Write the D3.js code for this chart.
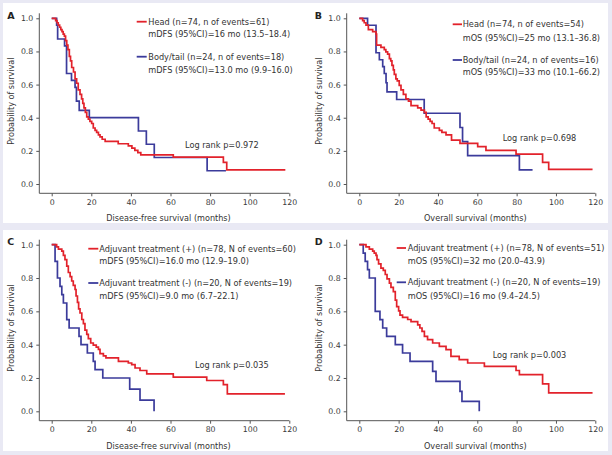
<!DOCTYPE html>
<html>
<head>
<meta charset="utf-8">
<script src="https://d3js.org/d3.v7.min.js"></script>
<style>
  body { margin: 0; background: #fff; }
  svg { display: block; }
  text { font-family: "DejaVu Sans", Verdana, sans-serif; fill: #333; }
  .tick text { font-size: 7.8px; fill: #3a3a3a; }
  .tick line { stroke: #555; }
  .leg { font-size: 8.2px; }
  .ttl { font-size: 8.1px; }
  .letter { font-size: 9.5px; font-weight: bold; fill: #222; }
</style>
</head>
<body>
<svg id="chart" width="612" height="455"></svg>
<script>
// survival curves, [months, probability]
var headDFS = [[0,1],[2,0.986],[2.7,0.973],[3.3,0.959],[4,0.946],[4.6,0.932],[5.2,0.919],[5.8,0.905],[6.4,0.892],[7,0.865],[7.6,0.838],[8.2,0.811],[8.9,0.770],[9.5,0.743],[10.1,0.703],[11,0.676],[11.8,0.635],[12.6,0.608],[13.4,0.568],[14.3,0.541],[15.1,0.514],[15.7,0.486],[16.3,0.459],[17,0.432],[17.7,0.405],[18.5,0.392],[19.3,0.378],[20.2,0.365],[21,0.338],[21.9,0.324],[22.7,0.311],[23.6,0.297],[24.4,0.284],[25.5,0.270],[27,0.257],[33.6,0.243],[38.7,0.230],[40.5,0.216],[42,0.203],[43.5,0.189],[45,0.176],[61.4,0.162],[86.7,0.130],[88.4,0.085],[118,0.085]];
var bodyDFS = [[0,1],[2.5,0.958],[3,0.875],[6.5,0.833],[7.5,0.667],[10,0.625],[11.8,0.583],[12.5,0.5],[13.9,0.444],[19,0.40],[43.8,0.32],[47.8,0.24],[51.8,0.16],[78.5,0.08],[88,0.08]];
var headOS = [[0,1],[1.7,0.986],[2.5,0.973],[3.4,0.959],[4.6,0.932],[6.8,0.919],[8.5,0.905],[8.8,0.838],[11,0.824],[12.7,0.811],[13.5,0.797],[14.4,0.784],[15.3,0.757],[16,0.743],[16.6,0.716],[17.3,0.689],[17.8,0.662],[18.6,0.635],[19.3,0.622],[20.3,0.595],[21.2,0.568],[22.4,0.541],[23.7,0.514],[25,0.50],[26.3,0.473],[29.7,0.459],[31.4,0.446],[33.1,0.432],[34,0.405],[35,0.392],[36,0.378],[37,0.365],[38.1,0.338],[40.7,0.324],[42,0.311],[44.1,0.297],[46.9,0.265],[51.2,0.245],[60.2,0.225],[64.4,0.203],[79.7,0.18],[93.2,0.13],[96.3,0.088],[118.6,0.088]];
var bodyOS = [[0,1],[4.2,0.958],[8.5,0.792],[10.2,0.75],[11.9,0.708],[12.7,0.667],[13.6,0.611],[14.1,0.556],[19,0.51],[33,0.427],[51.2,0.341],[52.5,0.256],[55.1,0.171],[81.4,0.085],[88.1,0.085]];
var adjPosDFS = [[0,1],[2.5,0.987],[3.4,0.974],[5.1,0.962],[5.9,0.936],[6.7,0.910],[7.6,0.872],[8.4,0.833],[9.3,0.808],[10.1,0.782],[10.9,0.756],[11.8,0.731],[12.3,0.692],[13,0.654],[13.6,0.615],[14.3,0.590],[15.2,0.551],[16,0.526],[16.8,0.487],[17.7,0.462],[18.5,0.436],[19.7,0.410],[21,0.397],[22.5,0.385],[23.6,0.372],[24.4,0.346],[26.1,0.333],[27.4,0.321],[33.7,0.30],[38.7,0.29],[40.4,0.28],[42.1,0.26],[44.6,0.245],[48,0.225],[61.4,0.205],[78.3,0.185],[86.7,0.16],[88.7,0.105],[117.8,0.105]];
var adjNegDFS = [[0,1],[1.7,0.90],[2.9,0.80],[4.2,0.75],[5.1,0.70],[5.9,0.65],[7.6,0.55],[8.8,0.50],[13.8,0.45],[14.8,0.40],[18,0.35],[21,0.30],[21.9,0.25],[25.8,0.20],[39.4,0.133],[44.6,0.067],[51.7,0.0]];
var adjPosOS = [[0,1],[3.4,0.987],[5.1,0.974],[6.8,0.962],[7.6,0.949],[8.5,0.936],[9,0.910],[9.8,0.885],[11,0.859],[12.2,0.846],[13.2,0.821],[14.1,0.795],[15.3,0.769],[16.1,0.744],[17.3,0.718],[18.3,0.667],[19,0.628],[20,0.603],[20.7,0.577],[22,0.564],[24.6,0.551],[26.3,0.538],[29.7,0.519],[30.8,0.50],[31.9,0.48],[33.1,0.45],[34.7,0.43],[37.3,0.41],[40.7,0.39],[44.1,0.37],[46.6,0.33],[50.8,0.31],[55.1,0.29],[63.6,0.27],[79.7,0.245],[81.4,0.22],[93.2,0.165],[96.3,0.11],[118.6,0.11]];
var adjNegOS = [[0,1],[2,0.95],[3,0.90],[4.2,0.85],[5.1,0.80],[8.1,0.60],[10.5,0.55],[11.9,0.50],[13.9,0.45],[18.3,0.40],[22,0.35],[25.8,0.30],[37.3,0.24],[39,0.18],[51.2,0.12],[52.2,0.06],[61,0.0]];

var xTicks = [0, 20, 40, 60, 80, 100, 120];
var yTicks = [0, 0.2, 0.4, 0.6, 0.8, 1.0];

var legendA = ["Head (n=74, n of events=61)", "mDFS (95%CI)=16 mo (13.5\u201318.4)", "Body/tail (n=24, n of events=18)", "mDFS (95%CI)=13.0 mo (9.9\u201316.0)"];
var legendB = ["Head (n=74, n of events=54)", "mOS (95%CI)=25 mo (13.1\u201336.8)", "Body/tail (n=24, n of events=16)", "mOS (95%CI)=33 mo (10.1\u201366.2)"];
var legendC = ["Adjuvant treatment (+) (n=78, N of events=60)", "mDFS (95%CI)=16.0 mo (12.9\u201319.0)", "Adjuvant treatment (-) (n=20, N of events=19)", "mDFS (95%CI)=9.0 mo (6.7\u201322.1)"];
var legendD = ["Adjuvant treatment (+) (n=78, N of events=51)", "mOS (95%CI)=32 mo (20.0\u201343.9)", "Adjuvant treatment (-) (n=20, N of events=19)", "mOS (95%CI)=16 mo (9.4\u201324.5)"];
var pValues = ["Log rank p=0.972", "Log rank p=0.698", "Log rank p=0.035", "Log rank p=0.003"];

var red = "#e2222b";
var blue = "#3b3b9b";

var svg = d3.select('#chart');

// frame
svg.append('rect').attr('width', 612).attr('height', 455).attr('fill', '#e9e9f4');
svg.append('rect').attr('x', 3).attr('y', 3).attr('width', 605).attr('height', 220).attr('fill', '#fff');
svg.append('rect').attr('x', 3).attr('y', 230).attr('width', 605).attr('height', 221).attr('fill', '#fff');

var left = {axisX: 39.3, x0: 51.7, x1: 289.3};
var right = {axisX: 346.7, x0: 359.3, x1: 595.3};
var top_ = {y1: 18.3, y0: 184, axisY: 193.3};
var bottom = {y1: 244.7, y0: 411.3, axisY: 420.7};

var panels = [
  {letter: 'A', col: left, row: top_, xTitle: 'Disease-free survival (months)', red: headDFS, blue: bodyDFS, legend: legendA, p: pValues[0],
   lx: [136.7, 146.7, 148.3], ly: [21.7, 34.3, 56.7, 70], px: 185, py: 145},
  {letter: 'B', col: right, row: top_, xTitle: 'Overall survival (months)', red: headOS, blue: bodyOS, legend: legendB, p: pValues[1],
   lx: [452.7, 462, 462.7], ly: [24.3, 37.7, 60, 71.7], px: 502.7, py: 137.7},
  {letter: 'C', col: left, row: bottom, xTitle: 'Disease-free survival (months)', red: adjPosDFS, blue: adjNegDFS, legend: legendC, p: pValues[2],
   lx: [88.3, 98.3, 99.3], ly: [248.7, 261.3, 283, 296.3], px: 195, py: 364.7},
  {letter: 'D', col: right, row: bottom, xTitle: 'Overall survival (months)', red: adjPosOS, blue: adjNegOS, legend: legendD, p: pValues[3],
   lx: [396.7, 406, 407.7], ly: [248, 261.3, 282.3, 296.3], px: 492.7, py: 354.7}
];

panels.forEach(drawPanel);

function drawPanel(p) {
  var g = svg.append('g');
  var x = d3.scaleLinear().domain([0, 120]).range([p.col.x0, p.col.x1]);
  var y = d3.scaleLinear().domain([0, 1]).range([p.row.y0, p.row.y1]);

  var xa = g.append('g')
      .attr('transform', 'translate(0,' + p.row.axisY + ')')
      .call(d3.axisBottom(x).tickValues(xTicks).tickSize(3).tickPadding(3));
  xa.select('.domain').remove();
  var ya = g.append('g')
      .attr('transform', 'translate(' + p.col.axisX + ',0)')
      .call(d3.axisLeft(y).tickValues(yTicks).tickFormat(d3.format('.1f')).tickSize(3).tickPadding(3));
  ya.select('.domain').remove();

  g.append('path')
      .attr('d', 'M' + p.col.axisX + ',' + (p.row.y1 - 5) + 'V' + p.row.axisY + 'H' + p.col.x1)
      .attr('fill', 'none')
      .attr('stroke', '#555')
      .attr('stroke-width', 1);

  var line = d3.line()
      .x(d => x(d[0]))
      .y(d => y(d[1]))
      .curve(d3.curveStepAfter);

  g.append('path').datum(p.blue)
      .attr('d', line)
      .attr('fill', 'none')
      .attr('stroke', blue)
      .attr('stroke-width', 1.7);
  g.append('path').datum(p.red)
      .attr('d', line)
      .attr('fill', 'none')
      .attr('stroke', red)
      .attr('stroke-width', 1.7);

  // legend
  [[red, p.ly[0]], [blue, p.ly[2]]].forEach(function(item) {
    g.append('line')
        .attr('x1', p.lx[0]).attr('x2', p.lx[1])
        .attr('y1', item[1]).attr('y2', item[1])
        .attr('stroke', item[0])
        .attr('stroke-width', 1.8);
  });
  p.legend.forEach(function(t, i) {
    g.append('text')
        .attr('class', 'leg')
        .attr('x', p.lx[2])
        .attr('y', p.ly[i])
        .attr('dy', '0.35em')
        .text(t);
  });
  g.append('text')
      .attr('class', 'leg')
      .attr('x', p.px)
      .attr('y', p.py)
      .attr('dy', '0.35em')
      .text(p.p);

  // titles
  g.append('text')
      .attr('class', 'ttl')
      .attr('text-anchor', 'middle')
      .attr('x', (p.col.x0 + p.col.x1) / 2 - 2)
      .attr('y', p.row.axisY + 25)
      .attr('dy', '0.35em')
      .text(p.xTitle);
  g.append('text')
      .attr('class', 'ttl')
      .attr('text-anchor', 'middle')
      .attr('transform', 'translate(' + (p.col.axisX - 28) + ',' + ((p.row.y0 + p.row.y1) / 2) + ') rotate(-90)')
      .attr('dy', '0.35em')
      .text('Probability of survival');
  g.append('text')
      .attr('class', 'letter')
      .attr('x', p.col.axisX - 32)
      .attr('y', p.row.y1 - 3)
      .attr('dy', '0.35em')
      .text(p.letter);
}
</script>
</body>
</html>
